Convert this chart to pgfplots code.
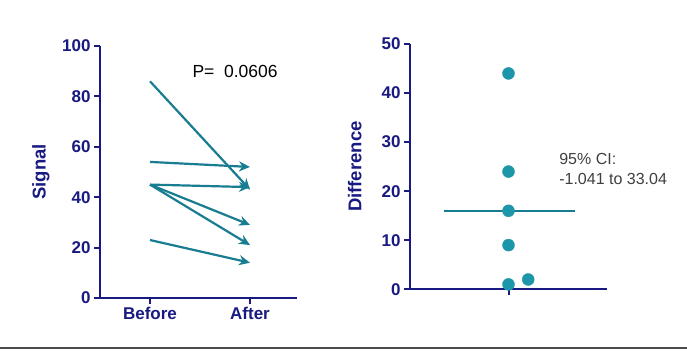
\documentclass[border=0pt]{standalone}
\usepackage{pgfplots}
\pgfplotsset{compat=1.18}
\usepackage{fontspec}
\setmainfont{Liberation Sans}
\usetikzlibrary{arrows.meta}
\definecolor{navy}{RGB}{25,25,130}
\definecolor{teal1}{RGB}{30,150,170}
\definecolor{teal2}{RGB}{25,125,145}
\pgfplotsset{
  gp/.style={
    scale only axis,
    axis lines=left,
    axis line style={-, line width=2.2pt, navy},
    /pgf/number format/assume math mode=true,
    tick label style={font=\bfseries\fontsize{17}{17}\selectfont, text=navy},
    label style={font=\bfseries\fontsize{18.5}{18.5}\selectfont, text=navy},
    major tick length=6pt,
    tick style={line width=2pt, navy},
    tick align=outside,
    clip=false,
  },
  arr/.style={teal2, line width=2.2pt, no marks, solid, -{Stealth[length=11pt,width=10pt]}}
}
\begin{document}
\begin{tikzpicture}
\useasboundingbox (0,0) rectangle (687pt,352pt);
\fill[white] (0,0) rectangle (687pt,352pt);
\draw[line width=2pt, black!70] (0,4pt) -- (687pt,4pt);
% Left: before/after
\begin{axis}[gp,
  at={(100pt,54pt)}, anchor=south west,
  width=197pt, height=252pt,
  xmin=-0.5, xmax=1.47, ymin=0, ymax=100,
  xtick={0,1}, xticklabels={Before,After},
  ytick={0,20,40,60,80,100},
  ylabel={Signal},
  ylabel style={at={(axis description cs:-0.3,0.5)}, anchor=center},
]
\addplot[arr] coordinates {(0,86) (1,43)};
\addplot[arr] coordinates {(0,54) (1,52)};
\addplot[arr] coordinates {(0,45) (1,44)};
\addplot[arr] coordinates {(0,45) (1,29)};
\addplot[arr] coordinates {(0,45) (1,21)};
\addplot[arr] coordinates {(0,23) (1,14)};
\node[anchor=west, font=\fontsize{17.5}{17.5}\selectfont] at (axis cs:0.39,90) {P=\ \ 0.0606};
\end{axis}
% Right: differences
\begin{axis}[gp,
  at={(410pt,62.7pt)}, anchor=south west,
  width=197pt, height=245.3pt,
  xmin=-1, xmax=1, ymin=0, ymax=50,
  xtick={0}, xticklabels={},
  ytick={0,10,20,30,40,50},
  ylabel={Difference},
  ylabel style={at={(axis description cs:-0.28,0.5)}, anchor=center},
]
\addplot[only marks, mark=*, mark size=6pt, teal1, mark options={draw=teal1, fill=teal1}]
  coordinates {(0,44) (0,24) (0,16) (0,9) (0,1) (0.2,2)};
\addplot[teal2, line width=1.8pt, no marks] coordinates {(-0.65,16) (0.67,16)};
\node[anchor=west, align=left, text=black!75, font=\fontsize{16}{20}\selectfont] at (axis cs:0.48,24.5) {95\% CI:\\-1.041 to 33.04};
\end{axis}
\end{tikzpicture}
\end{document}
